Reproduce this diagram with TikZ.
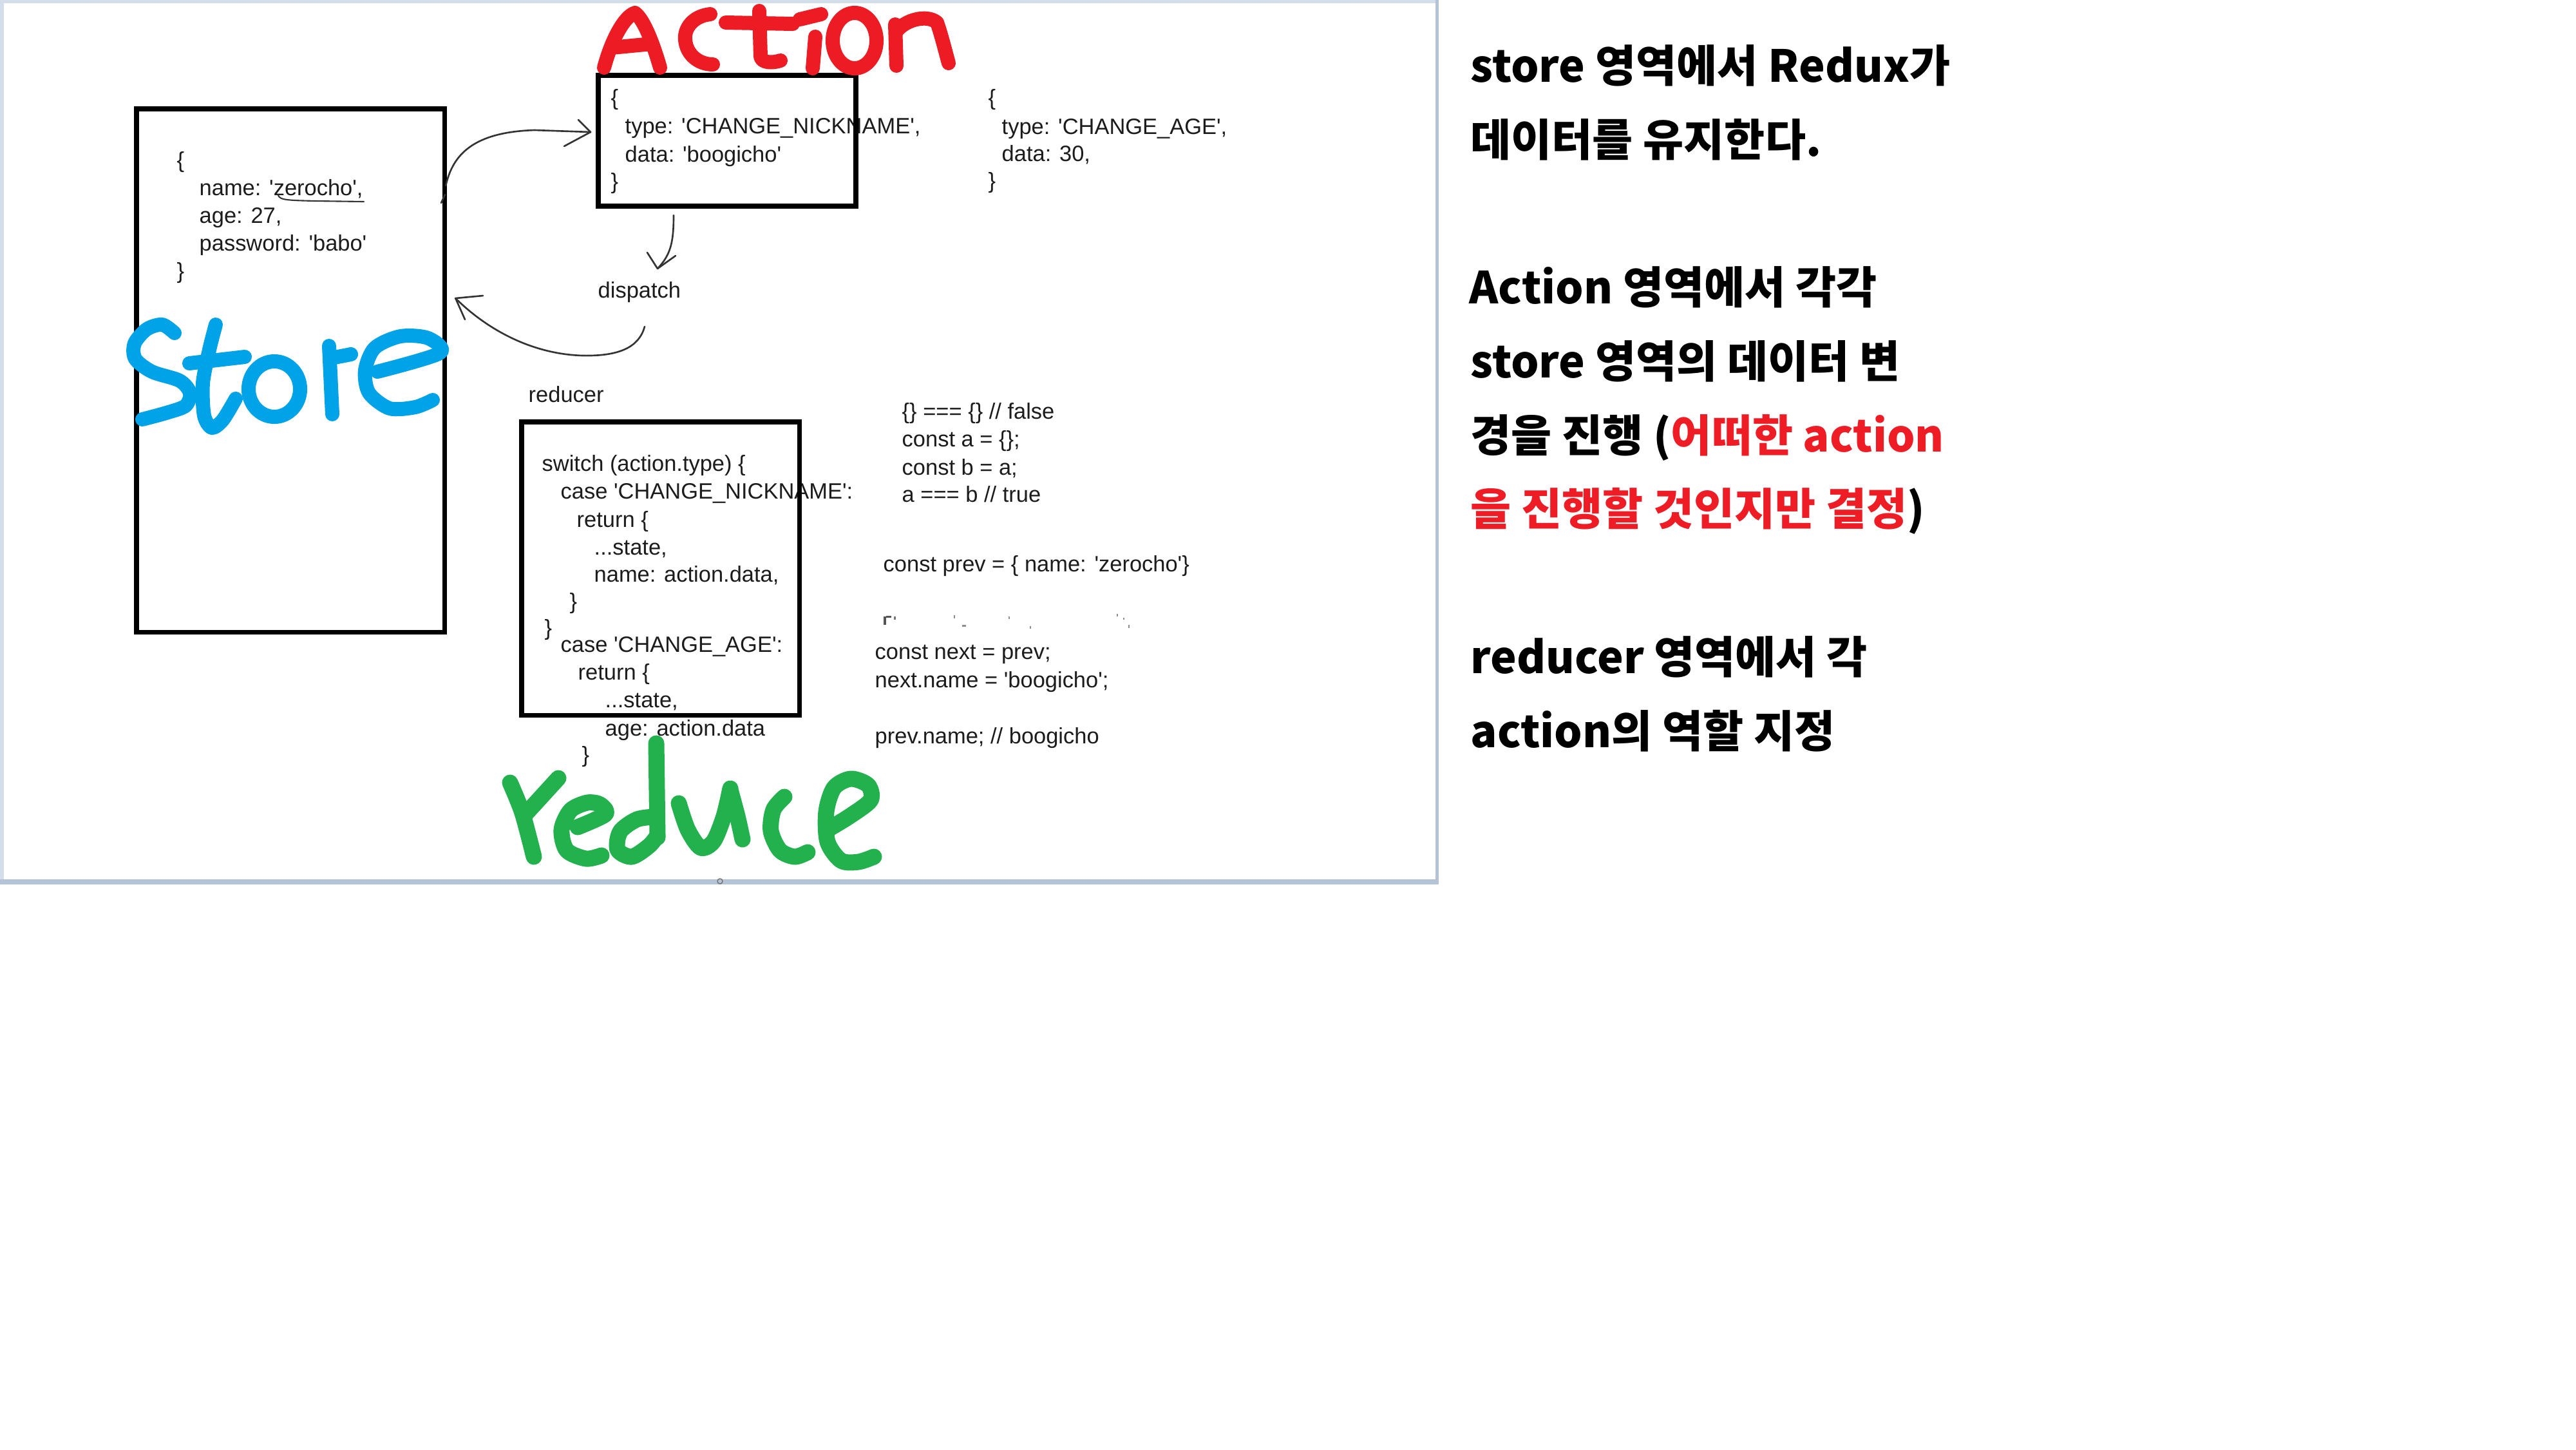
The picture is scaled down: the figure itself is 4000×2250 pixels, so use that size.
\documentclass[tikz,border=0pt]{standalone}
\usepackage{fontspec}
\usetikzlibrary{calc}
\newfontfamily\codefont{Liberation Sans}
\newfontfamily\krfont{Noto Sans CJK KR}
\definecolor{hwred}{HTML}{ED1C24}
\definecolor{hwblue}{HTML}{00A2E8}
\definecolor{hwgreen}{HTML}{22B14C}
\definecolor{frameline}{HTML}{B4C4D6}
\definecolor{framelight}{HTML}{D3DEEA}
\definecolor{ink}{HTML}{1C1C1C}
\definecolor{krred}{HTML}{EE1C25}
\newcommand\qt{\textquotesingle}
\begin{document}
\begin{tikzpicture}[x=0.01cm,y=-0.01cm,
 code/.style={font=\codefont\fontsize{9.8}{12}\selectfont, anchor=base west, inner sep=0pt, text=ink},
 kr/.style={font=\krfont\bfseries\fontsize{19.5}{23}\selectfont, anchor=base west, inner sep=0pt, text=black},
 box/.style={draw=black, line width=0.075cm, inner sep=0pt, outer sep=0pt, anchor=north west},
 pen/.style={draw=black!80, line width=0.75pt, line cap=round, line join=round},
 hw/.style={line width=0.22cm, line cap=round, line join=round},
]
\useasboundingbox (0,0) rectangle (4000,2250);
\fill[white] (0,0) rectangle (4000,2250);

% screenshot frame
\draw[framelight, line width=0.05cm] (3,0) -- (3,1369);
\draw[framelight, line width=0.05cm] (0,2) -- (2232,2);
\draw[frameline, line width=0.08cm] (0,1369) -- (2234,1369);
\draw[frameline, line width=0.05cm] (2231,0) -- (2231,1372);
\draw[black!55, line width=0.4pt] (1118,1368) circle (4);

% store code
\node[code] (s1) at (274,260) {\{};
\node[code] (s2) at (309,303) {name: \qt zerocho\qt,};
\node[code] (s3) at (309,346) {age: 27,};
\node[code] (s4) at (309,389) {password: \qt babo\qt};
\node[code] (s5) at (274,432) {\}};

% action code
\node[code] (a1) at (948,163) {\{};
\node[code] (a2) at (970,207) {type: \qt CHANGE\_NICKNAME\qt,};
\node[code] (a3) at (970,251) {data: \qt boogicho\qt};
\node[code] (a4) at (948,293) {\}};

\node[code] (b1) at (1534,163) {\{};
\node[code] (b2) at (1555,208) {type: \qt CHANGE\_AGE\qt,};
\node[code] (b3) at (1555,250) {data: 30,};
\node[code] (b4) at (1534,292) {\}};

\node[code] (disp) at (928,462) {dispatch};
\node[code] (redl) at (820,624) {reducer};

% reducer code
\node[code] (r1) at (841,731) {switch (action.type) \{};
\node[code] (r2) at (870,774) {case \qt CHANGE\_NICKNAME\qt:};
\node[code] (r3) at (895,818) {return \{};
\node[code] (r4) at (922,861) {...state,};
\node[code] (r5) at (922,903) {name: action.data,};
\node[code] (r6) at (884,945) {\}};
\node[code] (r7) at (845,986) {\}};
\node[code] (r8) at (870,1012) {case \qt CHANGE\_AGE\qt:};
\node[code] (r9) at (897,1055) {return \{};
\node[code] (r10) at (939,1098) {...state,};
\node[code] (r11) at (939,1142) {age: action.data};
\node[code] (r12) at (903,1183) {\}};

% right column code
\node[code] (c1) at (1400,650) {\{\} === \{\} // false};
\node[code] (c2) at (1400,693) {const a = \{\};};
\node[code] (c3) at (1400,737) {const b = a;};
\node[code] (c4) at (1400,779) {a === b // true};
\node[code] (c5) at (1371,887) {const prev = \{ name: \qt zerocho\qt\}};
\node[code] (c6) at (1358,1023) {const next = prev;};
\node[code] (c7) at (1358,1067) {next.name = \qt boogicho\qt;};
\node[code] (c8) at (1358,1154) {prev.name; // boogicho};

% erased line fragments
\fill[ink!75] (1372,957) rectangle (1376,970);
\fill[ink!75] (1376,956) rectangle (1384,959);
\fill[ink!60] (1388,957) rectangle (1391,962);
\fill[ink!50] (1481,955) rectangle (1483,960);
\fill[ink!50] (1494,970) rectangle (1500,973);
\fill[ink!50] (1566,957) rectangle (1568,961);
\fill[ink!50] (1599,972) rectangle (1601,976);
\fill[ink!50] (1734,953) rectangle (1736,957);
\fill[ink!50] (1744,959) rectangle (1746,962);
\fill[ink!50] (1752,970) rectangle (1754,975);

% boxes
\node[box, minimum width=4.78cm, minimum height=8.12cm] (store) at (212,169) {};
\node[box, minimum width=4.00cm, minimum height=2.03cm] (action) at (929,117) {};
\node[box, minimum width=4.31cm, minimum height=4.55cm] (reducer) at (810,655) {};

% connectors
\coordinate (a1s) at ($(store.north east)+(2,119)$);
\coordinate (a1e) at ($(action.north west)+(-12,88)$);
\draw[pen] (a1s) .. controls (703,240) and (735,205) .. (830,202) -- (a1e);
\draw[pen] (898,186) -- (a1e) -- (876,227);
\draw[pen] (685,315) -- (691,302);

\coordinate (d1s) at ($(action.south west)+(117,14)$);
\coordinate (d1e) at (1021,417);
\draw[pen] (d1s) .. controls (1046,375) and (1042,395) .. (d1e);
\draw[pen] (1005,392) -- (d1e) -- (1049,397);

\coordinate (r1s) at (1001,507);
\coordinate (r1e) at ($(store.north east)+(17,294)$);
\draw[pen] (r1s) .. controls (992,540) and (960,553) .. (905,552) .. controls (830,550) and (760,515) .. (r1e);
\draw[pen] (750,459) -- (r1e) -- (722,496);

% underline under zerocho
\draw[pen, line width=0.6pt] (432,303) .. controls (434,311) and (450,311) .. (490,312) -- (565,313);

% handwritten "Action"
\begin{scope}[hw, draw=hwred]
\draw (938,105) .. controls (950,60) and (970,25) .. (986,20) .. controls (1000,30) and (1015,70) .. (1025,105);
\draw (950,74) -- (1012,68);
\draw (1103,22) .. controls (1075,25) and (1062,45) .. (1064,62) .. controls (1066,85) and (1085,100) .. (1107,100);
\draw (1179,17) -- (1181,88) .. controls (1183,98) and (1200,98) .. (1212,94);
\draw (1127,35) -- (1231,37);
\draw (1242,30) -- (1275,22);
\draw (1266,57) -- (1262,106);
\draw (1327,63) ellipse [x radius=0.34cm, y radius=0.43cm];
\draw (1392,102) -- (1390,38);
\draw (1391,50) .. controls (1405,30) and (1440,22) .. (1455,35) .. controls (1462,55) and (1468,80) .. (1473,98);
\end{scope}

% handwritten "Store"
\begin{scope}[hw, draw=hwblue]
\draw plot[smooth] coordinates {(271,517) (252,504) (228,511) (209,533) (210,557) (236,577) (279,591) (295,610) (288,630) (258,641) (221,651)};
\draw plot[smooth] coordinates {(335,504) (325,543) (315,595) (317,645) (329,664) (346,652) (366,619)};
\draw (294,564) -- (380,554);
\draw (426,604) ellipse [x radius=0.40cm, y radius=0.43cm];
\draw (511,537) -- (516,643);
\draw (514,556) -- (545,550);
\draw plot[smooth] coordinates {(586,577) (683,548) (665,525) (622,522) (582,540) (567,575) (573,610) (605,634) (645,632) (672,621)};
\end{scope}

% handwritten "reduce"
\begin{scope}[hw, line width=0.25cm, draw=hwgreen]
\draw plot[smooth] coordinates {(792,1215) (811,1262) (829,1330)};
\draw (814,1266) -- (867,1208);
\draw plot[smooth] coordinates {(897,1284) (940,1264) (932,1249) (912,1246) (886,1258) (872,1288) (880,1320) (910,1333) (934,1328)};
\draw (1019,1154) -- (1021,1300);
\draw plot[smooth] coordinates {(1017,1268) (989,1272) (963,1291) (959,1319) (981,1330) (1008,1313) (1021,1297)};
\draw plot[smooth] coordinates {(1054,1247) (1068,1288) (1088,1316) (1108,1306) (1124,1267) (1134,1224)};
\draw plot[smooth] coordinates {(1134,1226) (1145,1267) (1153,1303)};
\draw plot[smooth] coordinates {(1218,1237) (1201,1257) (1197,1290) (1211,1320) (1234,1330) (1254,1323)};
\draw plot[smooth] coordinates {(1290,1285) (1321,1266) (1352,1242) (1348,1219) (1321,1209) (1295,1223) (1283,1260) (1285,1307) (1306,1336) (1333,1338) (1357,1330)};
\end{scope}

% Korean explanation
\node[kr] (k1) at (2283,127) {store 영역에서 Redux가};
\node[kr] (k2) at (2283,242) {데이터를 유지한다.};
\node[kr] (k3) at (2281,471) {Action 영역에서 각각};
\node[kr] (k4) at (2283,586) {store 영역의 데이터 변};
\node[kr] (k5) at (2283,701) {경을 진행 ({\color{krred}어떠한 action}};
\node[kr] (k6) at (2283,815) {{\color{krred}을 진행할 것인지만 결정})};
\node[kr] (k7) at (2283,1045) {reducer 영역에서 각};
\node[kr] (k8) at (2283,1160) {action의 역할 지정};
\end{tikzpicture}
\end{document}
